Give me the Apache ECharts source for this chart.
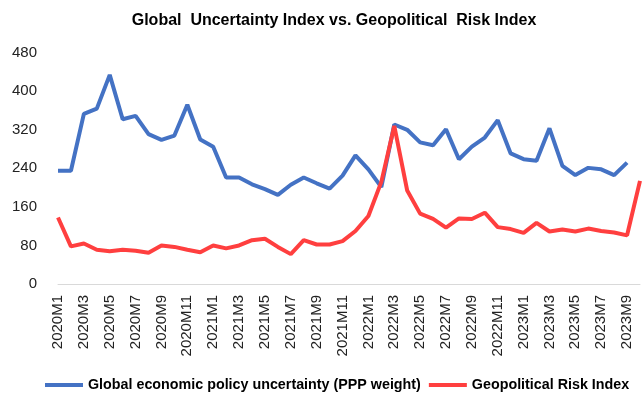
<!DOCTYPE html>
<html>
<head>
<meta charset="utf-8">
<script src="https://cdn.jsdelivr.net/npm/echarts@6/dist/echarts.min.js"></script>
<style>html,body{margin:0;padding:0;background:#fff}#c{width:642px;height:400px}</style>
</head>
<body>
<div id="c"></div>
<script>
var categories = [
  '2020M1','2020M2','2020M3','2020M4','2020M5','2020M6','2020M7','2020M8','2020M9','2020M10','2020M11','2020M12',
  '2021M1','2021M2','2021M3','2021M4','2021M5','2021M6','2021M7','2021M8','2021M9','2021M10','2021M11','2021M12',
  '2022M1','2022M2','2022M3','2022M4','2022M5','2022M6','2022M7','2022M8','2022M9','2022M10','2022M11','2022M12',
  '2023M1','2023M2','2023M3','2023M4','2023M5','2023M6','2023M7','2023M8','2023M9','2023M10'
];
var epuValues = [
  235,235,353,364,434,342,349,311,299,308,372,300,
  285,221,221,207,197,185,206,221,209,198,225,267,
  238,201,331,320,294,288,321,259,285,304,340,271,
  259,256,323,245,226,241,238,226,252,null
];
var gprValues = [
  138,78,84,71,68,71,69,65,80,77,71,66,
  80,74,80,91,94,77,62,91,82,82,89,110,
  141,212,328,194,146,135,117,136,135,148,118,114,
  106,127,109,113,109,115,110,107,101,214
];
var seriesNames = ['Global economic policy uncertainty (PPP weight)', 'Geopolitical Risk Index'];
var yTicks = { min: 0, max: 480, interval: 80 };
var titleText = 'Global  Uncertainty Index vs. Geopolitical  Risk Index';

var chart = echarts.init(document.getElementById('c'), null, { renderer: 'canvas' });
var font = 'Liberation Sans';
chart.setOption({
  animation: false,
  backgroundColor: '#ffffff',
  title: {
    text: titleText,
    left: 329,
    textAlign: 'center',
    top: 8,
    textStyle: { fontFamily: font, fontSize: 16, fontWeight: 'bold', color: '#000' }
  },
  legend: {
    bottom: 3,
    left: 40,
    itemGap: 8,
    itemWidth: 38,
    itemHeight: 4,
    icon: 'rect',
    textStyle: { fontFamily: font, fontSize: 14.3, fontWeight: 'bold', color: '#000' },
    data: seriesNames
  },
  grid: { left: 58, right: 2, top: 52.7, bottom: 116, containLabel: false },
  xAxis: {
    type: 'category',
    data: categories,
    boundaryGap: false,
    axisLine: { show: true, lineStyle: { color: '#d9d9d9', width: 1 } },
    axisTick: { show: false },
    axisLabel: { interval: 1, rotate: 90, margin: 11, fontFamily: font, fontSize: 15, color: '#222' }
  },
  yAxis: {
    type: 'value',
    min: yTicks.min, max: yTicks.max, interval: yTicks.interval,
    axisLine: { show: false },
    axisTick: { show: false },
    splitLine: { show: false },
    axisLabel: { margin: 21, fontFamily: font, fontSize: 15, color: '#222' }
  },
  series: [
    { name: seriesNames[0], type: 'line', data: epuValues, showSymbol: false, symbol: 'none',
      lineStyle: { color: '#4472C4', width: 4 }, itemStyle: { color: '#4472C4' } },
    { name: seriesNames[1], type: 'line', data: gprValues, showSymbol: false, symbol: 'none',
      lineStyle: { color: '#FF3F3F', width: 4 }, itemStyle: { color: '#FF3F3F' } }
  ]
});
</script>
</body>
</html>
